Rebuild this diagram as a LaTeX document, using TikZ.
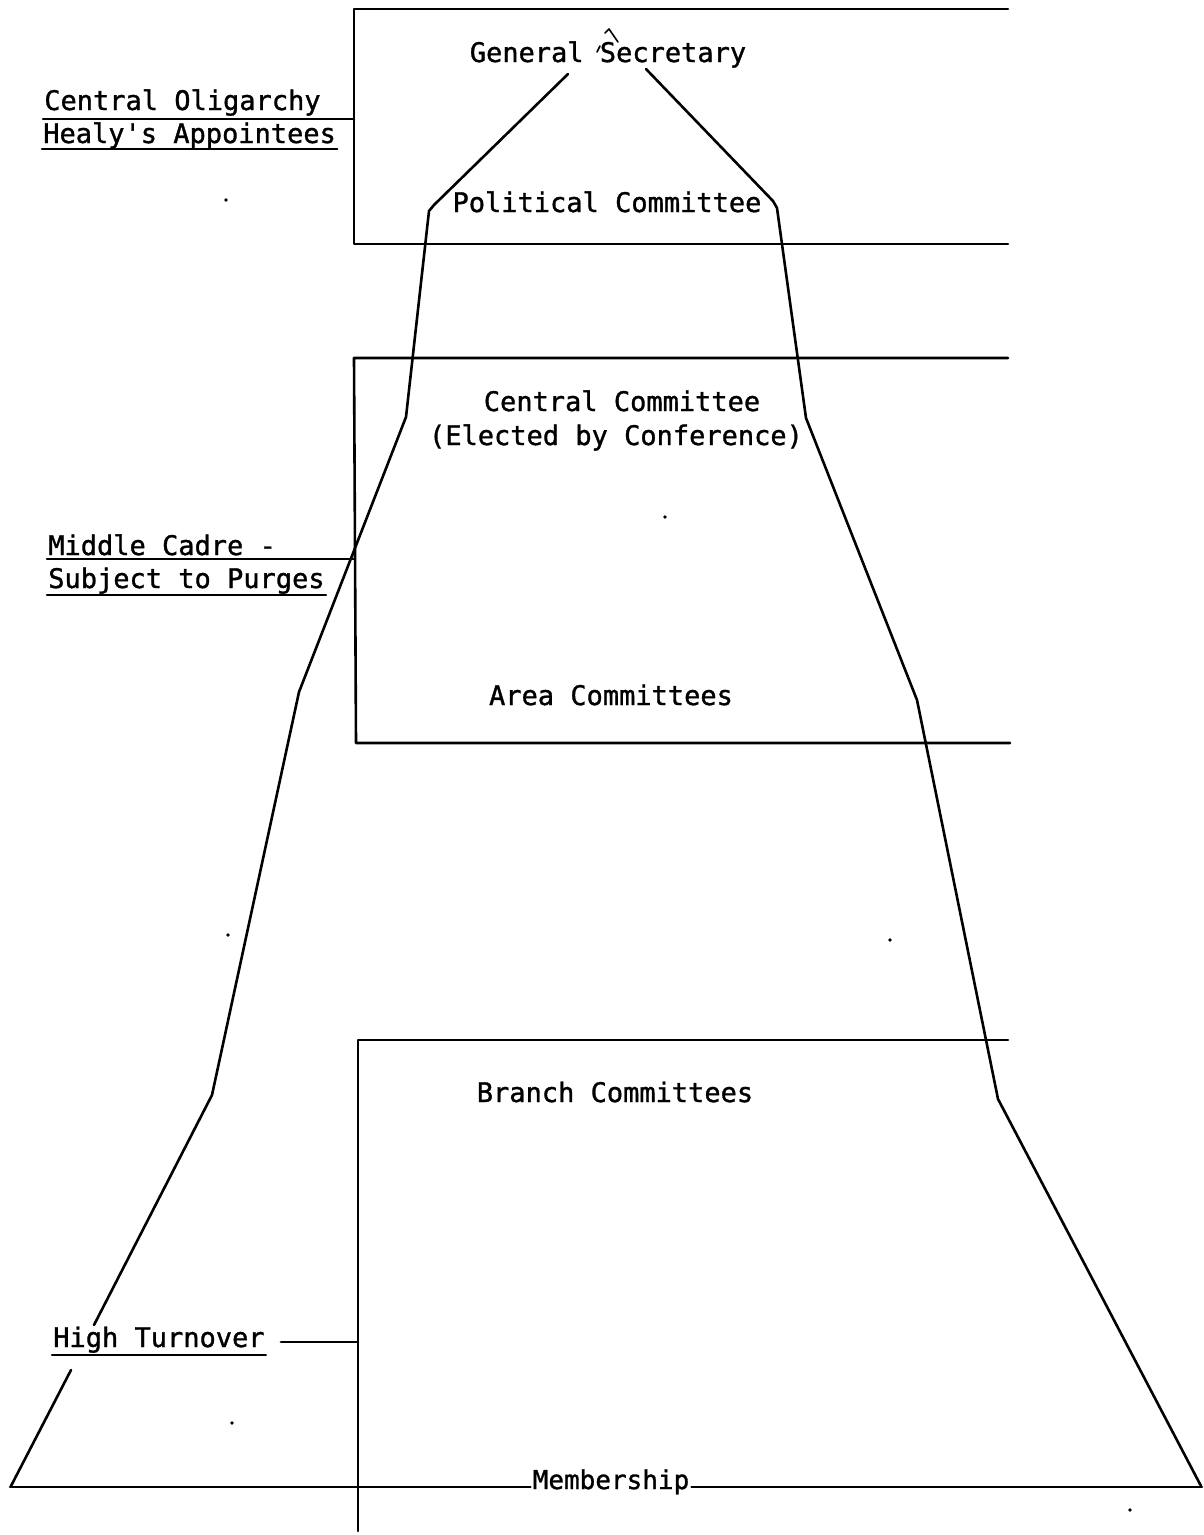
\documentclass[tikz,border=0pt]{standalone}
\usepackage{fontspec}
% typewriter-like face; plain font family so that ' stays a straight quote
\newfontfamily\typed[RawFeature={embolden=1.2}]{DejaVu Sans Mono}
\begin{document}
\begin{tikzpicture}[x=1pt,y=-1pt,line width=2.6pt,line cap=round,line join=round,
  lbl/.style={inner sep=0pt,font=\typed\fontsize{27}{30}\selectfont},
  memb/.style={inner sep=1pt,font=\typed\fontsize{26}{30}\selectfont},
  speck/.style={fill=black,draw=none}]
\useasboundingbox (0,0) rectangle (1203,1535);

% ---- level boxes (open to the right) ----
\coordinate (a-tl) at (354,9);   \coordinate (a-tr) at (1008,9);
\coordinate (a-bl) at (354,244); \coordinate (a-br) at (1008,244);
\coordinate (a-mid) at (354,119);
\draw (a-tr) -- (a-tl) -- (a-bl) -- (a-br);

\coordinate (b-tl) at (354,358); \coordinate (b-tr) at (1008,358);
\coordinate (b-bl) at (356,743); \coordinate (b-br) at (1010,743);
\coordinate (b-mid) at (355,559);
\draw (b-tr) -- (b-tl) -- (b-bl) -- (b-br);

\coordinate (c-tl) at (358,1040); \coordinate (c-tr) at (1008,1040);
\coordinate (c-bot) at (358,1531);
\coordinate (c-mid) at (358,1342);
\draw (c-tr) -- (c-tl) -- (c-bot);

% ---- level texts ----
\node[lbl,anchor=base] (gs) at (608,62) {General Secretary};
\node[lbl,anchor=base] (pc) at (607,212) {Political Committee};
\node[lbl,anchor=base] (cc) at (622,411) {Central Committee};
\node[lbl,anchor=base] (el) at (616,445) {(Elected by Conference)};
\node[lbl,anchor=base] (ac) at (611,705) {Area Committees};
\node[lbl,anchor=base] (bc) at (615,1102) {Branch Committees};

% ---- side labels ----
\node[lbl,anchor=base west] (olig) at (43,110) {Central Oligarchy};
\node[lbl,anchor=base west] (heal) at (42,143) {Healy's Appointees};
\node[lbl,anchor=base west] (midc) at (47,555) {Middle Cadre -};
\node[lbl,anchor=base west] (purg) at (47,588) {Subject to Purges};
\node[lbl,anchor=base west] (turn) at (52,1347) {High Turnover};

\draw (olig.base west |- a-mid) -- (a-mid);
\draw (heal.base west |- 0,149) -- (heal.base east |- 0,149);
\draw (midc.base west |- b-mid) -- (b-mid);
\draw (purg.base west |- 0,595) -- (purg.base east |- 0,595);
\draw (turn.base west |- 0,1355) -- (turn.base east |- 0,1355);
\draw ([xshift=15pt]turn.base east |- c-mid) -- (c-mid);

% ---- base line ----
\node[memb,anchor=base] (mem) at (611,1489) {Membership};
\coordinate (base-l) at (10,1487);
\coordinate (base-r) at (1202,1487);
\draw (base-l) -- (mem.south west |- base-l);
\draw (mem.south east |- base-r) -- (base-r);

% ---- pyramid outline ----
\coordinate (pk-l) at (568,74);   \coordinate (pk-r) at (646,69);
\coordinate (l1) at (434,205);    \coordinate (r1) at (773,201);
\coordinate (l1b) at (429,211);   \coordinate (r1b) at (777,208);
\coordinate (l2) at (406,417);    \coordinate (r2) at (806,418);
\coordinate (l3) at (299,692);    \coordinate (r3) at (917,700);
\coordinate (l4) at (212,1095);   \coordinate (r4) at (998,1099);
\coordinate (g1) at (94,1325);    \coordinate (g2) at (71,1370);
\coordinate (l5) at (11,1486);    \coordinate (r5) at (1201,1486);

\draw (pk-l) -- (l1) -- (l1b) -- (l2) -- (l3) -- (l4) -- (g1);
\draw (g2) -- (l5);
\draw (pk-r) -- (r1) -- (r1b) -- (r2) -- (r3) -- (r4) -- (r5);

% apex strokes above the top title
\draw[line width=1.6pt] (605,33) -- (609,29) -- (618,42);
\draw[line width=1.6pt] (597,52) -- (600,46);

% specks
\foreach \p in {(226,200),(665,517),(228,935),(890,940),(232,1423),(1130,1510)}
  \fill[speck] \p circle (1.8);
\end{tikzpicture}
\end{document}
